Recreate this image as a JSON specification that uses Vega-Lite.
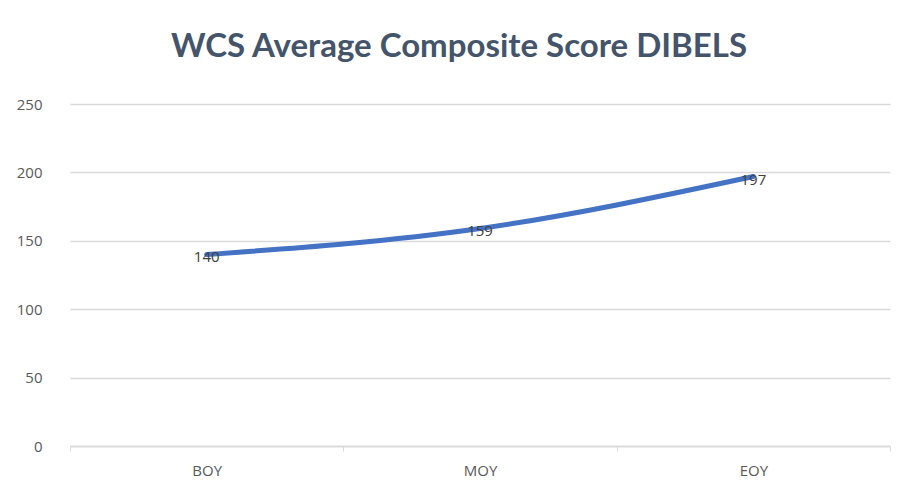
{
  "$schema": "https://vega.github.io/schema/vega-lite/v6.json",
  "autosize": "none",
  "width": 820,
  "height": 342,
  "padding": {"left": 70, "top": 104, "right": 27, "bottom": 53},
  "background": "white",
  "title": {
    "text": "WCS Average Composite Score DIBELS",
    "font": "Lato",
    "fontSize": 33,
    "fontWeight": "bold",
    "color": "#44546A",
    "anchor": "middle",
    "dx": -21,
    "offset": 33
  },
  "data": {
    "values": [
      {"period": "BOY", "score": 140},
      {"period": "MOY", "score": 159},
      {"period": "EOY", "score": 197}
    ]
  },
  "encoding": {
    "x": {
      "field": "period",
      "type": "nominal",
      "sort": ["BOY", "MOY", "EOY"],
      "scale": {"paddingInner": 0, "paddingOuter": 0},
      "axis": {
        "title": null,
        "labelAngle": 0,
        "labelFont": "Open Sans",
        "labelFontSize": 15,
        "labelColor": "#595959",
        "labelPadding": 12,
        "domainColor": "#D9D9D9",
        "domainWidth": 1.5,
        "tickColor": "#D9D9D9",
        "tickBand": "extent",
        "tickSize": 5,
        "grid": false
      }
    },
    "y": {
      "field": "score",
      "type": "quantitative",
      "scale": {"domain": [0, 250]},
      "axis": {
        "title": null,
        "values": [0, 50, 100, 150, 200, 250],
        "labelFont": "Open Sans",
        "labelFontSize": 15,
        "labelColor": "#595959",
        "labelPadding": 28,
        "domain": false,
        "ticks": false,
        "gridColor": "#D9D9D9",
        "gridWidth": 1.5
      }
    }
  },
  "layer": [
    {
      "mark": {"type": "line", "color": "#4472C4", "strokeWidth": 5, "interpolate": "monotone", "strokeCap": "round"}
    },
    {
      "mark": {"type": "text", "font": "Open Sans", "fontSize": 15, "color": "#404040", "dy": 3},
      "encoding": {"text": {"field": "score", "type": "quantitative"}}
    }
  ],
  "config": {"view": {"stroke": null}}
}
